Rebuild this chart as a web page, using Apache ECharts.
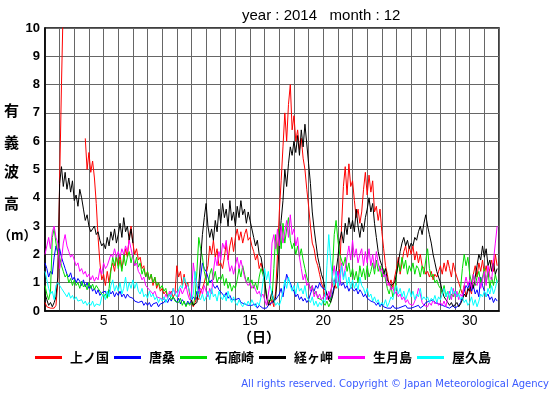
<!DOCTYPE html>
<html>
<head>
<meta charset="utf-8">
<script src="https://cdn.jsdelivr.net/npm/echarts@6/dist/echarts.min.js"></script>
<style>
html,body{margin:0;padding:0;background:#fff;}
#chart{width:555px;height:395px;}
</style>
</head>
<body>
<div id="chart"></div>
<script>
// ---- Data: significant wave height (m), Dec 2014, one value every 3 hours (8 per day), day 1..31 ----
const seriesNames = ['上ノ国', '唐桑', '石廊崎', '経ヶ岬', '生月島', '屋久島'];
const seriesColors = ['#ff0000', '#0000ff', '#00dd00', '#000000', '#ff00ff', '#00ffff'];
const xTickLabels = [5, 10, 15, 20, 25, 30];
const yTickLabels = [0, 1, 2, 3, 4, 5, 6, 7, 8, 9, 10];
const startDay = 1;
const stepsPerDay = 8;

const kaminokuni = [
 0.3,0.15,0.1,0.1,0.15,0.1,0.2,1.0,
 4.6,8.0,11.0,null,null,null,null,null,
 null,null,null,null,null,null,6.1,5.0,
 5.6,4.9,5.3,4.7,3.8,2.6,1.7,1.1,
 1.3,0.9,1.4,1.0,1.5,1.7,1.4,1.9,
 1.6,2.0,1.5,1.8,2.2,1.9,2.6,3.0,
 2.4,2.0,2.2,1.8,1.9,1.5,1.6,1.2,
 1.4,1.1,1.3,0.9,1.2,0.8,1.0,0.7,
 0.8,0.6,0.7,0.5,0.6,0.7,0.5,0.6,
 1.6,1.2,1.4,0.9,1.3,0.8,1.0,0.6,
 0.3,0.15,0.3,0.5,0.4,0.7,0.8,1.0,
 1.3,1.6,2.3,2.0,2.5,1.9,2.2,1.6,
 1.7,1.5,1.9,2.4,1.8,2.3,2.6,2.1,
 2.6,2.9,2.5,2.8,2.4,2.7,2.9,2.5,
 2.6,2.3,2.1,1.8,2.0,1.5,1.7,1.4,
 1.0,0.5,0.3,0.2,0.4,0.15,0.7,2.0,
 3.5,4.6,5.8,7.0,6.0,7.3,8.0,6.4,
 6.9,6.0,6.4,5.7,6.1,5.4,5.0,4.3,
 3.7,3.0,2.4,2.2,1.8,1.6,1.3,1.0,
 0.8,0.5,0.6,0.4,0.7,0.9,1.1,0.8,
 0.9,1.5,3.0,4.4,5.1,4.1,5.2,4.4,
 4.6,3.9,3.3,3.6,3.1,3.5,4.3,4.9,
 4.1,4.8,4.2,4.6,3.5,3.7,3.2,3.6,
 2.8,2.2,1.6,1.3,0.9,1.1,0.8,1.2,
 1.5,1.9,1.3,1.7,2.1,2.3,1.9,2.3,
 2.0,2.3,1.8,2.1,1.7,2.0,1.6,1.5,
 1.3,1.4,1.2,1.4,1.1,1.3,1.2,1.4,
 1.6,1.3,1.7,1.4,1.8,1.5,1.2,1.7,
 1.4,1.2,1.0,0.8,0.6,0.9,0.5,0.7,
 0.8,0.6,1.3,1.6,1.2,1.7,1.4,1.8,
 1.3,1.6,1.2,1.5,1.8,1.4,2.0,1.6
];

const karakuwa = [
 1.7,1.5,1.2,1.4,1.3,1.9,2.3,2.1,
 2.2,1.9,1.7,1.5,1.3,1.2,1.35,1.1,
 1.2,1.0,1.15,1.05,0.9,1.1,0.85,1.0,
 0.8,0.9,0.7,0.8,0.6,0.75,0.55,0.65,
 0.6,0.7,0.5,0.75,0.6,0.7,0.5,0.65,
 0.55,0.7,0.5,0.6,0.45,0.6,0.5,0.55,
 0.45,0.35,0.4,0.3,0.25,0.35,0.2,0.3,
 0.2,0.3,0.15,0.25,0.2,0.3,0.15,0.25,
 0.2,0.3,0.4,0.3,0.45,0.35,0.5,0.4,
 0.3,0.45,0.25,0.4,0.3,0.2,0.35,0.25,
 0.3,0.5,0.4,0.7,0.6,1.2,1.7,1.5,
 1.4,1.2,1.0,1.1,0.9,0.8,0.9,0.75,
 0.7,0.6,0.5,0.65,0.45,0.55,0.4,0.45,
 0.4,0.35,0.45,0.3,0.35,0.25,0.3,0.2,
 0.25,0.2,0.15,0.25,0.1,0.2,0.15,0.1,
 0.15,0.1,0.2,0.15,0.3,0.25,0.4,0.5,
 0.6,0.8,0.5,0.9,1.3,1.1,1.0,0.8,
 0.7,0.5,0.6,0.4,0.5,0.35,0.45,0.3,
 0.4,0.6,0.8,0.7,0.9,0.8,1.0,0.85,
 0.9,0.75,0.6,0.5,0.4,0.6,0.9,1.2,
 1.4,1.1,0.9,1.0,0.8,0.9,0.7,0.85,
 0.9,0.7,0.8,0.6,0.75,0.65,0.5,0.6,
 0.45,0.5,0.35,0.4,0.3,0.2,0.3,0.15,
 0.25,0.15,0.2,0.1,0.15,0.1,0.2,0.1,
 0.15,0.1,0.05,0.15,0.1,0.2,0.1,0.15,
 0.1,0.05,0.15,0.1,0.2,0.1,0.15,0.2,
 0.3,0.25,0.35,0.3,0.4,0.3,0.35,0.25,
 0.3,0.2,0.25,0.15,0.2,0.1,0.15,0.2,
 0.1,0.15,0.2,0.3,0.5,0.7,0.9,0.8,
 1.0,0.7,0.9,0.6,0.75,0.5,1.2,0.9,
 0.7,0.5,0.6,0.4,0.5,0.3,0.45,0.35
];

const irozaki = [
 0.9,0.6,0.4,0.7,2.6,2.9,2.4,2.0,
 1.9,1.6,1.4,1.2,1.3,1.0,1.15,0.9,
 1.1,0.9,1.0,0.8,1.05,0.85,0.95,0.75,
 1.0,0.8,0.95,0.75,0.9,0.8,0.7,0.6,
 0.5,0.6,0.45,0.8,1.4,1.9,1.6,2.0,
 1.5,1.8,1.4,2.0,1.6,1.9,2.1,1.7,
 2.0,1.6,1.9,1.55,1.7,1.3,1.5,1.2,
 1.4,1.1,1.3,1.0,1.2,0.9,1.0,0.8,
 0.9,0.7,0.8,0.5,0.6,0.4,0.5,0.35,
 0.4,0.3,0.45,0.2,0.35,0.15,0.3,0.2,
 0.3,0.2,0.5,1.4,2.6,2.2,1.9,1.4,
 1.1,0.9,1.3,1.5,1.1,1.4,1.0,1.2,
 1.1,1.3,0.9,1.15,0.8,1.0,0.7,0.9,
 0.8,1.1,1.5,1.2,1.6,1.3,1.0,1.2,
 0.9,1.1,0.8,1.0,0.75,1.2,1.5,1.3,
 1.0,0.6,0.35,0.3,0.4,1.5,2.7,2.0,
 2.9,2.2,3.1,2.4,2.9,3.3,2.5,2.2,
 2.4,2.0,2.3,1.9,2.2,1.8,1.5,1.2,
 1.0,0.8,0.9,0.6,0.7,0.45,0.5,0.4,
 0.3,0.2,0.35,0.15,0.3,1.4,2.7,3.2,
 2.5,2.0,1.8,1.6,1.9,1.4,1.7,1.2,
 1.5,1.1,1.4,1.0,1.6,1.2,1.5,1.1,
 1.6,1.2,1.4,1.7,1.3,1.8,1.4,1.6,
 1.2,1.5,1.1,0.8,0.6,0.9,0.5,0.7,
 1.3,1.7,1.4,1.9,1.5,1.8,1.3,1.6,
 1.4,1.7,1.3,1.6,1.5,1.2,1.6,1.3,
 1.8,2.2,1.5,1.2,1.3,1.0,1.1,0.9,
 0.8,0.6,0.9,0.5,0.7,0.4,0.6,0.5,
 0.7,0.5,0.6,0.8,1.5,2.0,1.6,1.9,
 1.3,1.0,1.3,0.9,1.2,1.4,1.0,1.2,
 1.5,1.0,1.4,0.8,1.2,0.9,1.3,1.0
];

const kyogamisaki = [
 0.6,0.4,0.2,0.3,0.15,0.3,0.5,1.2,
 4.5,5.1,4.4,4.9,4.3,4.7,4.2,4.6,
 3.9,4.1,3.7,4.3,4.0,3.6,3.2,3.4,
 3.0,2.8,2.9,3.0,2.7,2.8,2.5,2.3,
 2.4,2.2,2.6,2.3,2.8,2.5,2.9,2.4,
 2.7,3.1,2.6,3.3,2.8,3.0,2.5,2.9,
 2.4,null,null,null,null,null,null,null,
 null,null,null,null,null,null,null,null,
 null,null,null,null,null,null,null,null,
 null,null,null,null,null,null,null,null,
 0.4,0.2,0.15,0.3,0.9,1.8,2.7,3.3,
 3.8,3.0,2.6,2.9,2.5,3.2,2.8,3.6,
 3.1,3.8,3.3,3.6,3.0,3.9,3.2,3.5,
 3.0,3.7,3.3,3.9,3.4,3.6,3.1,3.5,
 3.2,2.9,2.6,2.3,2.5,2.0,1.9,1.5,
 1.1,0.5,0.2,0.4,0.7,0.3,0.5,1.2,
 2.4,3.2,3.9,5.0,4.4,5.2,5.8,5.5,
 6.0,5.6,6.2,5.5,6.4,5.8,6.6,5.9,
 5.2,4.5,3.5,2.9,2.4,1.9,1.6,1.3,
 1.1,0.8,0.6,0.4,0.3,0.5,0.8,1.4,
 1.9,2.5,2.8,2.4,3.1,2.7,3.3,2.9,
 3.2,2.8,3.6,3.0,2.6,3.1,2.8,3.3,
 3.6,4.0,3.5,3.8,3.1,2.6,2.1,1.8,
 1.6,1.3,1.5,1.1,1.0,0.9,0.85,1.0,
 1.3,1.7,2.1,2.4,2.6,2.3,2.5,2.2,
 2.4,2.3,2.6,2.5,2.8,3.0,2.7,3.1,
 3.4,3.0,2.7,2.4,2.0,1.7,1.4,1.2,
 1.0,0.7,0.5,0.4,0.3,0.2,0.3,0.15,
 0.2,0.3,0.15,0.25,0.4,0.6,0.5,0.8,
 0.7,1.0,0.8,1.2,1.6,2.0,1.8,2.3,
 1.9,2.2,1.6,1.8,1.4,1.7,1.3,1.5
];

const ikitsukishima = [
 2.0,2.3,2.6,2.2,2.8,3.0,2.6,2.4,
 1.5,1.8,2.4,2.7,2.3,2.1,1.9,2.0,
 1.8,1.6,1.7,1.4,1.5,1.3,1.4,1.2,
 1.3,1.1,1.25,1.05,1.2,1.1,1.5,1.3,
 1.7,1.5,1.6,1.8,2.0,1.9,2.2,1.9,
 2.1,1.9,2.2,2.0,2.3,2.1,2.5,2.2,
 1.9,1.6,1.7,1.4,1.3,1.1,1.2,0.9,
 0.9,0.75,0.8,0.6,0.7,0.5,0.55,0.45,
 0.5,0.4,0.6,0.45,0.7,0.55,0.8,0.6,
 0.7,0.5,0.8,0.6,0.75,0.9,0.6,0.4,
 0.5,1.7,1.2,0.9,0.7,0.8,0.6,0.9,
 0.7,0.5,0.8,0.6,1.4,1.9,1.6,2.1,
 1.8,2.4,2.2,2.5,1.8,1.4,1.6,1.3,
 1.6,1.9,1.5,1.8,1.5,1.2,1.0,0.9,
 1.0,0.8,0.9,0.75,0.6,0.7,0.5,0.6,
 0.4,0.2,0.15,1.0,2.4,2.7,2.2,2.9,
 2.3,3.0,2.4,2.8,3.2,2.6,3.4,2.7,
 2.9,2.3,2.6,1.9,1.5,1.1,1.3,0.9,
 1.0,0.7,0.9,0.5,0.7,0.45,0.6,0.4,
 0.5,0.6,0.4,0.7,0.5,1.2,1.6,1.0,
 1.4,0.9,1.7,1.2,1.5,1.9,2.3,1.8,
 2.5,1.9,2.2,1.7,2.0,2.2,1.6,2.1,
 1.7,2.2,1.6,2.0,1.5,2.1,1.7,1.4,
 1.5,1.2,1.3,0.9,1.0,0.75,0.85,0.6,
 0.7,0.5,0.6,0.4,0.5,0.3,0.4,0.25,
 0.3,0.2,0.35,0.5,0.8,0.6,0.3,0.2,
 0.25,0.15,0.3,0.2,0.4,0.25,0.35,0.2,
 0.3,0.2,0.35,0.15,0.5,0.7,0.4,0.8,
 0.5,0.7,0.4,0.6,0.5,0.9,1.2,0.9,
 1.1,0.8,1.3,1.0,0.9,1.2,0.8,1.1,
 1.4,0.9,1.6,1.2,1.1,1.8,2.4,3.0
];

const yakushima = [
 1.4,1.1,0.8,0.6,0.7,0.4,0.9,1.0,
 0.9,0.8,0.75,0.6,0.5,0.65,0.45,0.55,
 0.4,0.5,0.35,0.3,0.4,0.25,0.35,0.2,
 0.3,0.2,0.35,0.15,0.25,0.3,0.2,0.5,
 0.6,0.4,0.7,0.5,0.9,1.1,0.7,0.9,
 0.7,1.0,0.6,0.8,1.2,0.7,1.0,0.8,
 1.1,0.8,1.0,0.7,0.6,0.8,0.5,0.6,
 0.45,0.7,0.5,0.6,0.4,0.5,0.3,0.45,
 0.35,0.5,0.3,0.45,0.6,0.5,0.8,0.6,
 0.5,0.75,0.9,0.8,1.2,1.0,0.9,0.7,
 0.4,0.6,1.4,0.9,0.5,0.4,0.6,0.35,
 0.5,0.7,0.4,0.8,0.5,0.6,0.35,0.7,
 0.5,0.4,0.6,0.35,0.7,0.45,0.3,0.5,
 0.3,0.2,0.4,0.25,0.15,0.3,0.2,0.35,
 0.2,0.4,0.25,0.15,0.3,0.2,0.5,1.0,
 1.5,1.1,1.4,0.9,0.6,0.4,0.2,0.3,
 0.2,0.4,0.7,1.1,0.8,1.2,0.9,0.7,
 0.9,0.6,1.0,0.7,0.8,0.6,0.9,0.5,
 0.4,0.3,0.5,0.2,0.35,0.15,0.3,0.2,
 0.4,0.3,1.6,2.7,1.8,1.2,0.9,1.4,
 0.8,1.2,1.6,1.1,1.4,0.9,1.2,0.8,
 1.1,0.8,1.0,0.75,1.2,0.9,0.8,0.6,
 0.8,0.5,0.6,0.35,0.5,0.3,0.4,0.2,
 0.3,0.2,0.4,0.15,0.3,0.5,0.4,0.7,
 0.9,0.6,0.8,0.5,0.7,0.4,0.6,0.8,
 0.5,0.7,0.4,0.6,0.5,0.8,0.4,0.5,
 0.4,0.5,0.3,0.45,0.35,0.55,0.3,0.5,
 0.4,0.6,0.8,0.5,0.7,0.45,0.85,0.6,
 0.7,0.5,0.6,0.4,0.5,0.3,0.4,0.2,
 0.3,0.5,0.2,0.4,0.15,0.35,0.6,0.5,
 0.7,0.5,0.8,0.6,0.9,0.6,0.8,1.1
];

const allValues = [kaminokuni, karakuwa, irozaki, kyogamisaki, ikitsukishima, yakushima];

function toPoints(arr) {
  return arr.map((v, i) => [startDay + i / stepsPerDay, v]);
}

const chart = echarts.init(document.getElementById('chart'), null, {renderer: 'canvas'});

const series = allValues.map((vals, k) => ({
  name: seriesNames[k],
  type: 'line',
  data: toPoints(vals),
  showSymbol: false,
  connectNulls: false,
  z: 2 + k,
  lineStyle: {color: seriesColors[k], width: 1},
  itemStyle: {color: seriesColors[k]},
  emphasis: {disabled: true}
}));

const cjk = '"Noto Sans CJK JP", sans-serif';

chart.setOption({
  animation: false,
  backgroundColor: '#ffffff',
  title: {
    text: 'year : 2014   month : 12',
    left: 237, top: 3,
    textStyle: {fontFamily: '"Liberation Sans", Arial, sans-serif', fontSize: 15, fontWeight: 'normal', color: '#000'}
  },
  grid: {left: 45, right: 56, top: 28, bottom: 84, show: true, borderColor: '#000', borderWidth: 1.5, backgroundColor: 'transparent'},
  legend: {
    left: 30, top: 346,
    itemWidth: 27, itemHeight: 3, itemGap: 5,
    icon: 'rect',
    selectedMode: false,
    data: seriesNames,
    textStyle: {fontFamily: cjk, fontWeight: 'bold', fontSize: 13, color: '#000', width: 47, padding: [0, 0, 0, 3]}
  },
  xAxis: {
    type: 'value', min: 1, max: 32, interval: 1,
    axisLine: {show: true, lineStyle: {color: '#000', width: 1.5}},
    axisTick: {show: false},
    splitLine: {show: true, lineStyle: {color: '#666', width: 1}},
    axisLabel: {
      margin: 3,
      fontFamily: '"Liberation Sans", Arial, sans-serif', fontSize: 14, color: '#000',
      formatter: v => xTickLabels.indexOf(v) >= 0 ? String(v) : ''
    }
  },
  yAxis: {
    type: 'value', min: 0, max: 10, interval: 1,
    axisLine: {show: true, lineStyle: {color: '#000', width: 1.5}},
    axisTick: {show: false},
    splitLine: {show: true, lineStyle: {color: '#666', width: 1}},
    axisLabel: {
      margin: 5,
      fontFamily: '"Liberation Sans", Arial, sans-serif', fontSize: 13, fontWeight: 'bold', color: '#000',
      formatter: v => yTickLabels.indexOf(v) >= 0 ? String(v) : ''
    }
  },
  graphic: [
    {type: 'text', left: 4, top: 103, style: {text: '有', font: 'bold 15px ' + cjk, fill: '#000'}},
    {type: 'text', left: 4, top: 135, style: {text: '義', font: 'bold 15px ' + cjk, fill: '#000'}},
    {type: 'text', left: 4, top: 164, style: {text: '波', font: 'bold 15px ' + cjk, fill: '#000'}},
    {type: 'text', left: 4, top: 196, style: {text: '高', font: 'bold 15px ' + cjk, fill: '#000'}},
    {type: 'text', left: -2, top: 229, style: {text: '（m）', font: 'bold 13px ' + cjk, fill: '#000'}},
    {type: 'text', left: 238, top: 330, style: {text: '（日）', font: 'bold 14px ' + cjk, fill: '#000'}},
    {type: 'text', right: 6, top: 379, style: {text: 'All rights reserved. Copyright © Japan Meteorological Agency', font: '10px "DejaVu Sans", sans-serif', fill: '#3a5aff'}}
  ],
  series: series
});
</script>
</body>
</html>
